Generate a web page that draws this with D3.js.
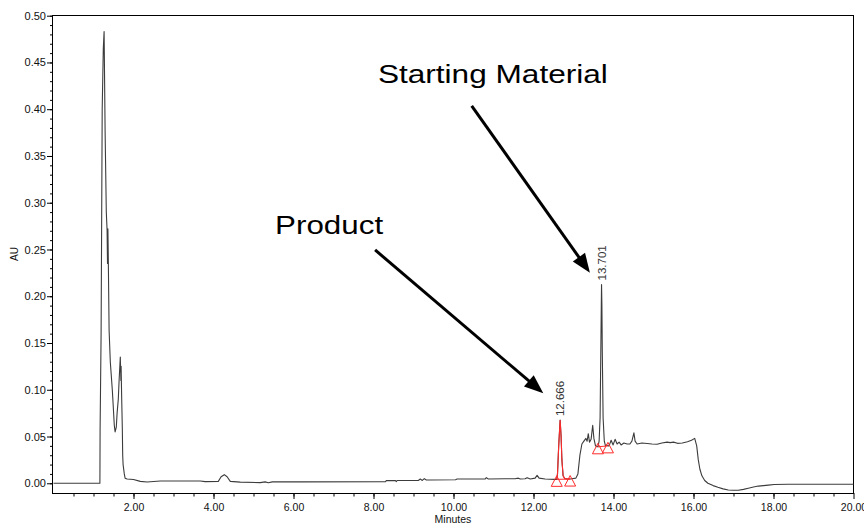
<!DOCTYPE html>
<html>
<head>
<meta charset="utf-8">
<script src="https://cdn.jsdelivr.net/npm/d3@7"></script>
<style>
  body { margin: 0; background: #fff; }
  svg { display: block; }
</style>
</head>
<body>
<svg id="chart" width="864" height="525"></svg>
<script>
// Detector trace: retention time (minutes) and absorbance (AU)
const times = [
  0, 1.16, 1.165, 1.19, 1.2175, 1.245, 1.265, 1.29, 1.32, 1.34, 1.35, 1.36, 1.37,
  1.39, 1.42, 1.44, 1.47, 1.49, 1.52, 1.54, 1.57, 1.59, 1.62, 1.64, 1.67, 1.685,
  1.69, 1.705, 1.72, 1.73, 1.74, 1.77, 1.79, 1.84, 2.0, 2.17, 2.34, 2.42, 2.67,
  3.67, 3.79, 4.12, 4.19, 4.27, 4.34, 4.42, 4.67, 5.17, 5.29, 5.37, 5.47, 6.17,
  8.3, 8.32, 8.55, 8.57, 8.59, 9.12, 9.17, 9.22, 9.27, 9.32, 9.42, 10.05, 10.09,
  10.79, 10.82, 10.87, 11.29, 11.54, 11.62, 11.67, 11.79, 11.84, 11.92, 12.04,
  12.09, 12.14, 12.29, 12.54, 12.581, 12.60, 12.63, 12.666, 12.69, 12.71, 12.74,
  12.78, 12.85, 12.916, 12.96, 13.06, 13.11, 13.16, 13.21, 13.26, 13.31, 13.34,
  13.37, 13.40, 13.44, 13.48, 13.51, 13.55, 13.59, 13.611, 13.64, 13.665, 13.685,
  13.695, 13.701, 13.71, 13.72, 13.74, 13.77, 13.80, 13.83, 13.861, 13.89, 13.94,
  13.99, 14.04, 14.09, 14.14, 14.19, 14.26, 14.34, 14.41, 14.46, 14.51, 14.54,
  14.59, 14.71, 14.84, 14.96, 15.09, 15.21, 15.34, 15.42, 15.5, 15.6, 15.72,
  15.85, 15.95, 16.03, 16.08, 16.12, 16.16, 16.21, 16.28, 16.36, 16.49, 16.61,
  16.74, 16.87, 16.99, 17.12, 17.25, 17.37, 17.5, 17.62, 17.75, 17.87, 18.02,
  18.37, 20
];
const absorbance = [
  0, 0, 0.058, 0.16, 0.40, 0.465, 0.483, 0.377, 0.29, 0.27, 0.235, 0.272, 0.24,
  0.164, 0.13, 0.118, 0.10, 0.085, 0.062, 0.055, 0.06, 0.075, 0.09, 0.11, 0.135, 0.11,
  0.125, 0.09, 0.06, 0.03, 0.02, 0.01, 0.0055, 0.0045, 0.004, 0.002, 0.0013, 0.0017, 0.0025,
  0.0025, 0.0018, 0.002, 0.007, 0.0092, 0.007, 0.002, 0.0012, 0.0007, 0.0015, 0.0005, 0.0015, 0.0015,
  0.0016, 0.0028, 0.0028, 0.0018, 0.003, 0.003, 0.0045, 0.003, 0.005, 0.0035, 0.0035, 0.0037, 0.0045,
  0.0045, 0.006, 0.0045, 0.0048, 0.0048, 0.0055, 0.0045, 0.0048, 0.006, 0.0045, 0.0055,
  0.0085, 0.0055, 0.0045, 0.0042, 0.0042, 0.01, 0.04, 0.0676, 0.05, 0.025, 0.008,
  0.005, 0.0045, 0.0045, 0.0048, 0.0055, 0.01, 0.03, 0.042, 0.045, 0.048, 0.045,
  0.053, 0.044, 0.047, 0.062, 0.048, 0.040, 0.039, 0.039, 0.045, 0.07, 0.15,
  0.19, 0.2126, 0.19, 0.14, 0.07, 0.045, 0.04, 0.041, 0.040, 0.040, 0.046,
  0.041, 0.047, 0.042, 0.044, 0.041, 0.043, 0.042, 0.042, 0.045, 0.054, 0.045,
  0.042, 0.043, 0.0425, 0.042, 0.0417, 0.043, 0.044, 0.0435, 0.044, 0.0427, 0.043,
  0.0445, 0.046, 0.048, 0.040, 0.025, 0.015, 0.008, 0.003, 0.0, -0.0025, -0.0043,
  -0.006, -0.0072, -0.0075, -0.0074, -0.0065, -0.0053, -0.004, -0.003, -0.0025, -0.002, -0.0013,
  -0.0011, -0.0011
];

// Integrated peaks: apex time label, start and end of integration
const peakLabels = ["12.666", "13.701"];
const peakApex = [12.666, 13.701];
const peakStart = [12.581, 13.611];
const peakEnd = [12.916, 13.861];
const peakHighlight = [true, false];

// Axis ticks
const xMajorTicks = [2, 4, 6, 8, 10, 12, 14, 16, 18, 20];
const yMajorTicks = [0, 0.05, 0.10, 0.15, 0.20, 0.25, 0.30, 0.35, 0.40, 0.45, 0.50];

// Callout annotations (text anchor and arrow from/to, in data units)
const calloutText = ["Starting Material", "Product"];
const calloutTextPos = [[8.11, 0.4278], [5.54, 0.2666]];
const calloutTextWidth = [230, 108];
const calloutFrom = [[10.455, 0.4036], [8.04, 0.2495]];
const calloutTo = [[13.41, 0.2252], [12.245, 0.0963]];

const FONT = "'Liberation Sans', Arial, Helvetica, sans-serif";
const svg = d3.select("#chart");

const x = d3.scaleLinear().domain([0, 20]).range([53.5, 853.5]);
const y = d3.scaleLinear().domain([-0.0104, 0.5]).range([493, 15.7]);

const trace = times.map((t, i) => ({ t, v: absorbance[i] }));
const valueAt = t => {
  const i = d3.bisector(d => d.t).left(trace, t);
  const a = trace[Math.max(0, i - 1)], b = trace[Math.min(trace.length - 1, i)];
  if (b.t === a.t) return b.v;
  return a.v + (b.v - a.v) * (t - a.t) / (b.t - a.t);
};

// Frame
svg.append("rect")
  .attr("x", 52.5).attr("y", 15.5)
  .attr("width", 853.5 - 52.5).attr("height", 493.5 - 15.5)
  .attr("fill", "none").attr("stroke", "#000").attr("stroke-width", 1);

// Y axis: minor and major ticks
const yAxisG = svg.append("g").attr("transform", "translate(52,0)");
yAxisG.append("g")
  .call(d3.axisLeft(y).tickValues(d3.range(0, 0.501, 0.01)).tickSize(2).tickFormat(""))
  .call(g => g.select(".domain").remove());
yAxisG.append("g")
  .call(d3.axisLeft(y).tickValues(yMajorTicks).tickSize(5).tickPadding(1).tickFormat(d3.format(".2f")))
  .call(g => g.select(".domain").remove())
  .call(g => g.selectAll("text").attr("font-family", FONT).attr("font-size", 11).attr("fill", "#111"));

// X axis: minor and major ticks
const xAxisG = svg.append("g").attr("transform", "translate(0,493)");
xAxisG.append("g")
  .call(d3.axisBottom(x).tickValues(d3.range(0.5, 20, 0.5)).tickSize(3.5).tickFormat(""))
  .call(g => g.select(".domain").remove());
xAxisG.append("g")
  .call(d3.axisBottom(x).tickValues(xMajorTicks).tickSize(6).tickPadding(4.5).tickFormat(d3.format(".2f")))
  .call(g => g.select(".domain").remove())
  .call(g => g.selectAll("text").attr("font-family", FONT).attr("font-size", 10.5).attr("fill", "#111"));

svg.selectAll(".tick line").attr("stroke", "#000");

// Axis titles
svg.append("text")
  .attr("x", 453).attr("y", 523)
  .attr("text-anchor", "middle")
  .attr("font-family", FONT).attr("font-size", 10.5).attr("fill", "#111")
  .text("Minutes");
svg.append("text")
  .attr("transform", "translate(18,254) rotate(-90)")
  .attr("text-anchor", "middle")
  .attr("font-family", FONT).attr("font-size", 10).attr("fill", "#111")
  .text("AU");

// Chromatogram trace
const line = d3.line().x(d => x(d.t)).y(d => y(d.v));
svg.append("path")
  .datum(trace)
  .attr("d", line)
  .attr("fill", "none")
  .attr("stroke", "#3c3c3c")
  .attr("stroke-width", 1.1)
  .attr("stroke-linejoin", "round");

// Integrated peaks: highlighted segment, baseline, start/end markers, apex label
peakLabels.forEach((label, i) => {
  const s = peakStart[i], e = peakEnd[i];
  if (peakHighlight[i]) {
    svg.append("path")
      .datum(trace.filter(d => d.t >= s && d.t <= e))
      .attr("d", line)
      .attr("fill", "none")
      .attr("stroke", "#ff2a2a")
      .attr("stroke-width", 1.1);
  }
  svg.append("line")
    .attr("x1", x(s)).attr("y1", y(valueAt(s)))
    .attr("x2", x(e)).attr("y2", y(valueAt(e)))
    .attr("stroke", "#ff2a2a").attr("stroke-width", 1);
  [s, e].forEach(t => {
    const px = x(t), py = y(valueAt(t));
    svg.append("path")
      .attr("d", `M${px},${py - 3.5}L${px + 5.5},${py + 7}L${px - 5.5},${py + 7}Z`)
      .attr("fill", "none")
      .attr("stroke", "#ff2a2a")
      .attr("stroke-width", 1);
  });
  const ax = x(peakApex[i]), ay = y(valueAt(peakApex[i]));
  svg.append("text")
    .attr("transform", `translate(${ax + 4},${ay - 4}) rotate(-90)`)
    .attr("font-family", FONT).attr("font-size", 11.5).attr("fill", "#333")
    .text(label);
});

// Callouts with arrows
calloutText.forEach((txt, i) => {
  svg.append("text")
    .attr("x", x(calloutTextPos[i][0])).attr("y", y(calloutTextPos[i][1]))
    .attr("font-family", FONT).attr("font-size", 26).attr("fill", "#000")
    .attr("textLength", calloutTextWidth[i]).attr("lengthAdjust", "spacingAndGlyphs")
    .text(txt);
  const x1 = x(calloutFrom[i][0]), y1 = y(calloutFrom[i][1]);
  const x2 = x(calloutTo[i][0]), y2 = y(calloutTo[i][1]);
  const dx = x2 - x1, dy = y2 - y1, len = Math.hypot(dx, dy);
  const ux = dx / len, uy = dy / len;
  const headLen = 19, headHalf = 7.5;
  const bx = x2 - ux * headLen, by = y2 - uy * headLen;
  svg.append("line")
    .attr("x1", x1).attr("y1", y1).attr("x2", bx + ux * 2).attr("y2", by + uy * 2)
    .attr("stroke", "#000").attr("stroke-width", 3);
  svg.append("path")
    .attr("d", `M${x2},${y2}L${bx - uy * headHalf},${by + ux * headHalf}L${bx + uy * headHalf},${by - ux * headHalf}Z`)
    .attr("fill", "#000");
});
</script>
</body>
</html>
